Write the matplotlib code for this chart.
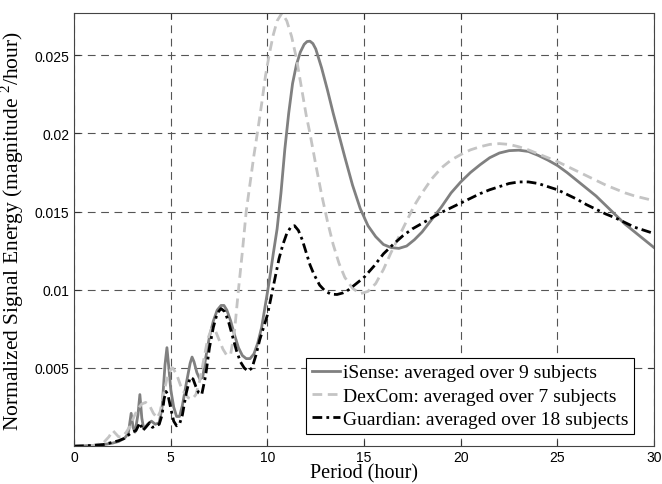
import matplotlib
matplotlib.use('Agg')
import matplotlib.pyplot as plt
import numpy as np

# period (hour) and normalized energy (x1e-3)
isense_x = [0, 0.5, 1.0, 1.5, 2.0, 2.3, 2.6, 2.8, 2.95, 3.05, 3.15, 3.3, 3.4, 3.5, 3.6,
            3.8, 4.0, 4.2, 4.4, 4.55, 4.7, 4.8, 4.9, 5.0, 5.15, 5.3, 5.45, 5.6, 5.8,
            6.0, 6.1, 6.2, 6.35, 6.5, 6.65, 6.8, 7.0, 7.2, 7.4, 7.6, 7.75, 7.9, 8.1,
            8.3, 8.5, 8.7, 8.9, 9.1, 9.3, 9.5, 9.7, 9.9, 10.1, 10.3, 10.5, 10.7, 10.9,
            11.1, 11.3, 11.5, 11.7, 11.9, 12.05, 12.2, 12.35, 12.5, 12.8, 13.1, 13.4,
            13.7, 14.0, 14.4, 14.8, 15.2, 15.6, 16.0, 16.4, 16.8, 17.2, 17.6, 18.0,
            18.5, 19.0, 19.5, 20.0, 20.5, 21.0, 21.5, 22.0, 22.5, 23.0, 23.5, 24.0,
            24.5, 25.0, 25.5, 26.0, 26.5, 27.0, 27.5, 28.0, 28.5, 29.0, 29.5, 30.0]
isense_y = [0, 0.02, 0.05, 0.1, 0.2, 0.3, 0.5, 0.8, 2.1, 1.2, 0.9, 2.0, 3.3, 1.8, 1.1,
            1.4, 1.6, 1.4, 1.5, 2.5, 5.2, 6.3, 5.0, 3.6, 2.5, 1.9, 1.9, 2.6, 4.0,
            5.3, 5.7, 5.4, 4.7, 4.3, 4.4, 5.6, 7.0, 8.0, 8.7, 9.0, 9.0, 8.7, 8.0,
            7.1, 6.3, 5.8, 5.6, 5.6, 5.9, 6.6, 7.6, 9.1, 10.6, 12.3, 13.9, 16.2, 19.0,
            21.3, 23.2, 24.4, 25.2, 25.7, 25.88, 25.9, 25.75, 25.4, 24.2, 22.8, 21.3,
            19.9, 18.5, 16.7, 15.2, 14.1, 13.4, 12.9, 12.7, 12.65, 12.8, 13.2, 13.7,
            14.5, 15.3, 16.2, 16.9, 17.5, 18.0, 18.45, 18.75, 18.9, 18.93, 18.85, 18.6,
            18.3, 17.95, 17.5, 17.0, 16.5, 16.0, 15.4, 14.8, 14.2, 13.7, 13.2, 12.7]

dexcom_x = [0, 0.5, 1.0, 1.5, 1.8, 2.0, 2.15, 2.3, 2.5, 2.7, 2.9, 3.1, 3.3, 3.5, 3.7,
            3.9, 4.1, 4.3, 4.45, 4.6, 4.8, 5.0, 5.1, 5.3, 5.5, 5.7, 5.9, 6.1, 6.3,
            6.5, 6.7, 6.9, 7.1, 7.3, 7.5, 7.7, 7.9, 8.1, 8.3, 8.5, 8.7, 8.9, 9.1,
            9.3, 9.5, 9.7, 9.9, 10.1, 10.3, 10.5, 10.75, 11.0, 11.25, 11.5, 11.75,
            12.0, 12.2, 12.5, 12.8, 13.1, 13.4, 13.7, 14.0, 14.4, 14.8, 15.2, 15.6,
            16.0, 16.4, 16.8, 17.2, 17.6, 18.0, 18.5, 19.0, 19.5, 20.0, 20.5, 21.0,
            21.5, 22.0, 22.5, 23.0, 23.5, 24.0, 24.5, 25.0, 25.5, 26.0, 26.5, 27.0,
            27.5, 28.0, 28.5, 29.0, 29.5, 30.0]
dexcom_y = [0, 0.02, 0.05, 0.2, 0.6, 1.0, 0.8, 0.6, 0.6, 0.9, 1.3, 1.9, 2.4, 2.7, 2.8,
            2.6, 2.1, 1.8, 2.2, 3.2, 4.3, 4.9, 5.0, 4.6, 3.9, 3.4, 3.1, 3.0, 3.3,
            4.2, 5.5, 6.8, 7.5, 7.4, 6.8, 6.2, 5.8, 5.9, 7.4, 10.0, 12.4, 15.0, 16.8,
            18.6, 20.2, 21.9, 23.7, 25.1, 26.3, 27.2, 27.7, 27.2, 26.2, 24.8, 23.0,
            21.2, 20.0, 18.0, 16.1, 14.4, 12.9, 11.7, 10.8, 10.1, 9.75, 9.9, 10.4,
            11.3, 12.4, 13.4, 14.4, 15.4, 16.2, 17.1, 17.8, 18.3, 18.65, 18.95, 19.15,
            19.3, 19.35, 19.3, 19.15, 18.95, 18.7, 18.45, 18.2, 17.9, 17.6, 17.3, 17.0,
            16.7, 16.45, 16.2, 16.0, 15.85, 15.7]

guardian_x = [0, 0.5, 1.0, 1.5, 2.0, 2.3, 2.6, 2.8, 3.0, 3.2, 3.4, 3.55, 3.7, 3.9,
              4.05, 4.2, 4.4, 4.55, 4.65, 4.75, 4.85, 5.0, 5.15, 5.3, 5.45, 5.6, 5.8,
              6.0, 6.15, 6.3, 6.45, 6.6, 6.8, 7.0, 7.2, 7.4, 7.6, 7.8, 8.0, 8.2, 8.4,
              8.6, 8.8, 9.0, 9.2, 9.4, 9.6, 9.8, 10.0, 10.2, 10.4, 10.6, 10.8, 11.0,
              11.2, 11.4, 11.6, 11.8, 12.0, 12.2, 12.4, 12.7, 13.0, 13.3, 13.6, 13.9,
              14.2, 14.6, 15.0, 15.5, 16.0, 16.5, 17.0, 17.5, 18.0, 18.5, 19.0, 19.5,
              20.0, 20.5, 21.0, 21.5, 22.0, 22.5, 23.0, 23.5, 24.0, 24.5, 25.0, 25.5,
              26.0, 26.5, 27.0, 27.5, 28.0, 28.5, 29.0, 29.5, 30.0]
guardian_y = [0, 0.02, 0.05, 0.1, 0.25, 0.35, 0.5, 0.7, 0.9, 1.0, 1.5, 1.0, 1.2, 1.5,
              1.2, 1.3, 1.4, 2.0, 3.0, 3.5, 3.3, 2.4, 1.6, 1.3, 1.4, 2.0, 3.4,
              4.4, 4.3, 3.8, 3.4, 3.3, 4.5, 6.3, 7.6, 8.5, 8.8, 8.6, 7.9, 7.0, 6.1,
              5.4, 5.0, 4.8, 5.0, 5.8, 6.8, 7.6, 8.4, 9.6, 10.8, 12.0, 12.9, 13.6,
              14.0, 14.1, 13.8, 13.2, 12.4, 11.6, 11.0, 10.3, 9.9, 9.72, 9.7, 9.8,
              10.0, 10.4, 10.8, 11.5, 12.3, 12.9, 13.45, 13.9, 14.25, 14.6, 14.95, 15.25,
              15.55, 15.85, 16.15, 16.4, 16.6, 16.8, 16.9, 16.9, 16.8, 16.6, 16.4, 16.1,
              15.8, 15.45, 15.15, 14.85, 14.6, 14.3, 14.0, 13.8, 13.6]

labels = ['iSense: averaged over 9 subjects',
          'DexCom: averaged over 7 subjects',
          'Guardian: averaged over 18 subjects']

plt.rcParams['mathtext.fontset'] = 'custom'
plt.rcParams['mathtext.rm'] = 'Liberation Serif'

fig = plt.figure(figsize=(6.62, 4.85), dpi=100)
ax = fig.add_axes([0.112, 0.078, 0.876, 0.893])

ax.plot(isense_x, np.array(isense_y) * 1e-3, color='#808080', lw=2, ls='-', label=labels[0])
ax.plot(dexcom_x, np.array(dexcom_y) * 1e-3, color='#c4c4c4', lw=2,
        ls=(0, (3.5, 2)), label=labels[1])
ax.plot(guardian_x, np.array(guardian_y) * 1e-3, color='black', lw=2,
        ls=(0, (3.5, 1.5, 1, 1.5)), label=labels[2])

ax.set_xlim(0, 30)
ax.set_ylim(0, 0.0277)
ax.set_xticks([0, 5, 10, 15, 20, 25, 30])
ax.set_yticks([0.005, 0.01, 0.015, 0.02, 0.025])
ax.set_yticklabels(['0.005', '0.01', '0.015', '0.02', '0.025'])
ax.grid(True, color='#555555', ls=(0, (7, 5)), lw=0.8)
ax.tick_params(direction='in', length=4, top=True, right=True, labelsize=10,
               color='#333333')
ax.tick_params(axis='x', pad=2.5)
for lab in ax.get_xticklabels() + ax.get_yticklabels():
    lab.set_family('Liberation Sans')
for s in ax.spines.values():
    s.set_color('#444444')
    s.set_linewidth(0.8)

ax.set_xlabel('Period (hour)', family='Liberation Serif', fontsize=14.5, labelpad=0)
ax.set_ylabel('Normalized Signal Energy (magnitude $^2$/hour)',
              family='Liberation Serif', fontsize=15.5, labelpad=6)

leg = ax.legend(loc='lower right', bbox_to_anchor=(0.966, 0.028),
                prop={'family': 'Liberation Serif', 'size': 14},
                frameon=True, fancybox=False, framealpha=1, edgecolor='black',
                handlelength=1.45, handletextpad=0.15, borderpad=0.3,
                labelspacing=0.3, borderaxespad=0)
leg.get_frame().set_linewidth(0.8)

fig.savefig('out.png', dpi=100)
